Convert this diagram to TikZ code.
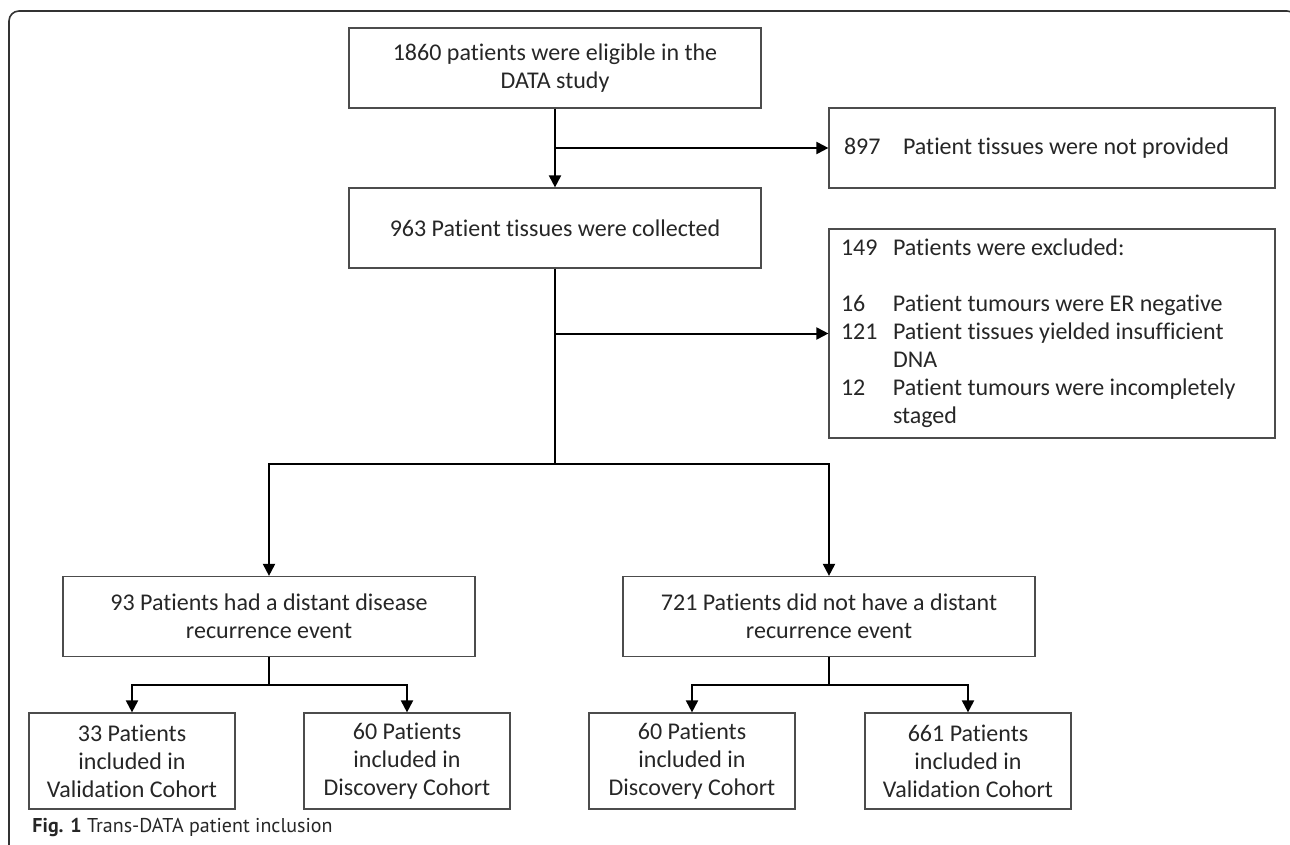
\documentclass[tikz,border=0pt]{standalone}
\usepackage{fontspec}
\setmainfont{Carlito}[RawFeature={-liga,-clig,-calt}]
\newfontfamily\capfont{PT Sans}
\usetikzlibrary{arrows.meta}

\begin{document}
\begin{tikzpicture}[x=0.5pt, y=-0.5pt, thick,
    main/.style = {draw=black!70, line width=0.6pt, rectangle, text=black!85,
                   font=\fontsize{12}{14}\selectfont, align=center,
                   minimum width=206pt, minimum height=40pt},
    side/.style = {main, align=left, text width=211pt, inner xsep=6pt,
                   execute at begin node={\spaceskip=0pt\xspaceskip=0pt\relax}},
    leaf/.style = {main, minimum width=103pt, minimum height=48pt, inner xsep=2pt},
    link/.style = {line width=1pt, black},
    arrow/.style = {link, -{Triangle[length=6pt, width=6pt]}}]
    \useasboundingbox (0,0) rectangle (1290,845);
    % outer frame
    \draw[line width=0.8pt, black!80, rounded corners=5pt] (9,860) |- (1297,11) -- (1297,40);
    \node[side, text width=208pt, inner xsep=7.5pt](2) at (1052,148)
        {\makebox[29.5pt][l]{897}Patient tissues were not provided};
    \node[main](1) at (555,68) {1860 patients were eligible in the\\DATA study};
    \node[main](3) at (555,228) {963 Patient tissues were collected};
    \node[side, minimum height=104.5pt](4) at (1052,333.5)
        {\makebox[26pt][l]{149}Patients were excluded:\\[14pt]
         \makebox[26pt][l]{16}Patient tumours were ER negative\\
         \makebox[26pt][l]{121}Patient tissues yielded insufficient\\
         \hspace*{26pt}DNA\\
         \makebox[26pt][l]{12}Patient tumours were incompletely\\
         \hspace*{26pt}staged};
    \node[main](5) at (269,616.5) {93 Patients had a distant disease\\recurrence event};
    \node[main](6) at (829,616.5) {721 Patients did not have a distant\\recurrence event};
    \node[leaf](7) at (132,761) {33 Patients\\included in\\Validation Cohort};
    \node[leaf](8) at (407,761) {60 Patients\\included in\\Discovery Cohort};
    \node[leaf](9) at (692,761) {60 Patients\\included in\\Discovery Cohort};
    \node[leaf](10) at (968,761) {661 Patients\\included in\\Validation Cohort};
    \node[anchor=base west, text=black!85, font=\capfont\fontsize{10}{12}\selectfont](cap) at (25,832)
        {\textbf{Fig. 1} Trans-DATA patient inclusion};
    % junctions
    \coordinate (a) at (1.south |- 2.west);
    \coordinate (b) at (3.south |- 4.west);
    \coordinate (c) at (555,464);
    \coordinate (d) at (269,685);
    \coordinate (e) at (829,685);
    \draw[arrow] (1) to (3);
    \draw[arrow] (a) to (2);
    \draw[link] (3) to (c);
    \draw[arrow] (b) to (4);
    \draw[arrow] (c) -| (5);
    \draw[arrow] (c) -| (6);
    \draw[link] (5) to (d);
    \draw[arrow] (d) -| (7);
    \draw[arrow] (d) -| (8);
    \draw[link] (6) to (e);
    \draw[arrow] (e) -| (9);
    \draw[arrow] (e) -| (10);
\end{tikzpicture}
\end{document}
